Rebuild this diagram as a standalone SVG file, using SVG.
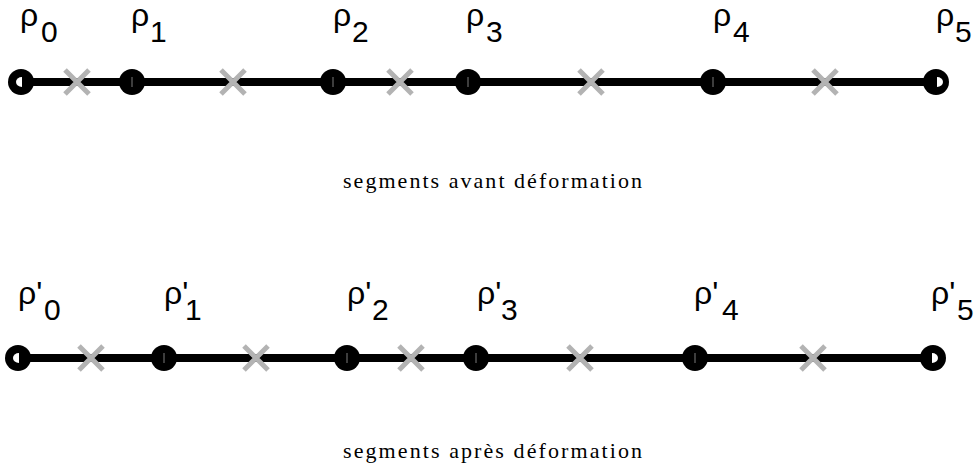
<svg xmlns="http://www.w3.org/2000/svg" width="977" height="473" viewBox="0 0 977 473">
<style>
.seg{stroke:#000;stroke-width:8;fill:none}
.pt{fill:#000}
.hole{fill:#fff}
.tick{stroke:#7a7a7a;stroke-width:1}
.x{stroke:#b3b3b3;stroke-width:5;fill:none}
.lbl{font-family:"Liberation Sans",Arial,sans-serif;font-size:32px;fill:#000}
.sub{font-size:30px}
.cap{font-family:"Liberation Serif","Times New Roman",serif;font-size:22px;fill:#000}
</style>
<defs>
<path id="cross" class="x" d="M-12,-12L12,12M-12,12L12,-12"/>
</defs>
<rect width="977" height="473" fill="#fff"/>

<g id="connectors">
<line class="seg" x1="21" y1="82" x2="132" y2="82"/>
<line class="seg" x1="132" y1="82" x2="333" y2="82"/>
<line class="seg" x1="333" y1="82" x2="468" y2="82"/>
<line class="seg" x1="468" y1="82" x2="713" y2="82"/>
<line class="seg" x1="713" y1="82" x2="936" y2="82"/>
<line class="seg" x1="18" y1="358" x2="164" y2="358"/>
<line class="seg" x1="164" y1="358" x2="347" y2="358"/>
<line class="seg" x1="347" y1="358" x2="476" y2="358"/>
<line class="seg" x1="476" y1="358" x2="695" y2="358"/>
<line class="seg" x1="695" y1="358" x2="933" y2="358"/>
</g>

<g id="midpoints">
<use href="#cross" x="77" y="82"/>
<use href="#cross" x="233" y="82"/>
<use href="#cross" x="400" y="82"/>
<use href="#cross" x="591" y="82"/>
<use href="#cross" x="825" y="82"/>
<use href="#cross" x="91" y="358"/>
<use href="#cross" x="256" y="358"/>
<use href="#cross" x="411" y="358"/>
<use href="#cross" x="580" y="358"/>
<use href="#cross" x="813" y="358"/>
</g>

<g id="p0">
<circle class="pt" cx="21" cy="82" r="13"/>
<path class="hole" d="M22,77A6,5 0 0 0 22,87Z"/>
<text class="lbl" x="20" y="26">ρ<tspan class="sub" x="41" y="42">0</tspan></text>
</g>
<g id="p1">
<circle class="pt" cx="132" cy="82" r="13"/>
<line class="tick" x1="132" y1="77" x2="132" y2="87"/>
<text class="lbl" x="131" y="26">ρ<tspan class="sub" x="150" y="42">1</tspan></text>
</g>
<g id="p2">
<circle class="pt" cx="333" cy="82" r="13"/>
<line class="tick" x1="333" y1="77" x2="333" y2="87"/>
<text class="lbl" x="333" y="26">ρ<tspan class="sub" x="352" y="42">2</tspan></text>
</g>
<g id="p3">
<circle class="pt" cx="468" cy="82" r="13"/>
<line class="tick" x1="468" y1="77" x2="468" y2="87"/>
<text class="lbl" x="466" y="26">ρ<tspan class="sub" x="486" y="42">3</tspan></text>
</g>
<g id="p4">
<circle class="pt" cx="713" cy="82" r="13"/>
<line class="tick" x1="713" y1="77" x2="713" y2="87"/>
<text class="lbl" x="713" y="26">ρ<tspan class="sub" x="733" y="42">4</tspan></text>
</g>
<g id="p5">
<circle class="pt" cx="936" cy="82" r="13"/>
<path class="hole" d="M937,77A6,5 0 0 1 937,87Z"/>
<text class="lbl" x="936" y="26">ρ<tspan class="sub" x="955" y="42">5</tspan></text>
</g>

<g id="q0">
<circle class="pt" cx="18" cy="358" r="13"/>
<path class="hole" d="M19,353A6,5 0 0 0 19,363Z"/>
<text class="lbl" x="18" y="304">ρ'<tspan class="sub" x="44" y="320">0</tspan></text>
</g>
<g id="q1">
<circle class="pt" cx="164" cy="358" r="13"/>
<line class="tick" x1="164" y1="353" x2="164" y2="363"/>
<text class="lbl" x="164" y="304">ρ'<tspan class="sub" x="185" y="320">1</tspan></text>
</g>
<g id="q2">
<circle class="pt" cx="347" cy="358" r="13"/>
<line class="tick" x1="347" y1="353" x2="347" y2="363"/>
<text class="lbl" x="347" y="304">ρ'<tspan class="sub" x="372" y="320">2</tspan></text>
</g>
<g id="q3">
<circle class="pt" cx="476" cy="358" r="13"/>
<line class="tick" x1="476" y1="353" x2="476" y2="363"/>
<text class="lbl" x="477" y="304">ρ'<tspan class="sub" x="501" y="320">3</tspan></text>
</g>
<g id="q4">
<circle class="pt" cx="695" cy="358" r="13"/>
<line class="tick" x1="695" y1="353" x2="695" y2="363"/>
<text class="lbl" x="694" y="304">ρ'<tspan class="sub" x="722" y="320">4</tspan></text>
</g>
<g id="q5">
<circle class="pt" cx="933" cy="358" r="13"/>
<path class="hole" d="M932,353A6,5 0 0 1 932,363Z"/>
<text class="lbl" x="931" y="304">ρ'<tspan class="sub" x="957" y="320">5</tspan></text>
</g>

<g id="captions">
<text class="cap" x="343" y="188" textLength="299" lengthAdjust="spacing">segments avant déformation</text>
<text class="cap" x="343" y="458" textLength="299" lengthAdjust="spacing">segments après déformation</text>
</g>
</svg>
